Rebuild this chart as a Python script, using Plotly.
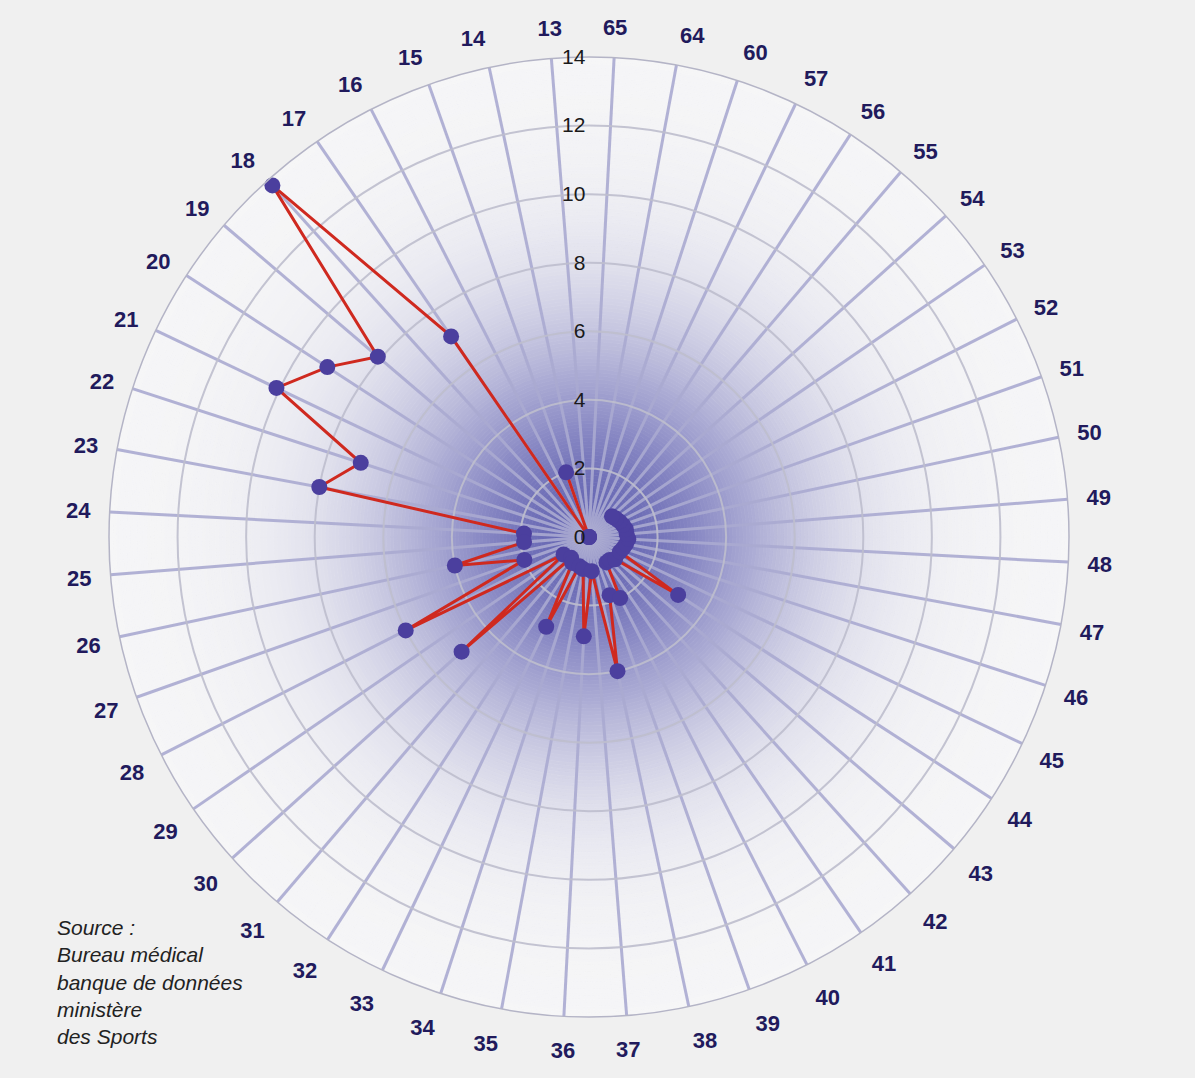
import numpy as np
import plotly.graph_objects as go

# ---------------- data ----------------
categories = ["13", "14", "15", "16", "17", "18", "19", "20", "21", "22",
              "23", "24", "25", "26", "27", "28", "29", "30", "31", "32",
              "33", "34", "35", "36", "37", "38", "39", "40", "41", "42",
              "43", "44", "45", "46", "47", "48", "49", "50", "51", "52",
              "53", "54", "55", "56", "57", "60", "64", "65"]

values = [0, 0, 2.0, 0, 7.1, 13.8, 8.1, 9.1, 10.1, 7.0,
          8.0, 1.9, 1.9, 4.0, 2.0, 6.0, 0.9, 5.0, 0.8, 0.9,
          2.9, 0.9, 0.95, 2.9, 1.0, 4.0, 1.8, 2.0, 0.9, 0.9,
          1.0, 3.1, 1.0, 1.05, 1.1, 1.15, 1.1, 1.1, 1.05, 1.0,
          0.95, 0.9, None, None, None, None, None, None]

radial_ticks = [0, 2, 4, 6, 8, 10, 12, 14]
radial_ticktext = ["0", "2", "4", "6", "8", "10", "12", "14"]

source_lines = ["Source :", "Bureau médical", "banque de données",
                "ministère", "des Sports"]

# ---------------- layout geometry ----------------
W, H = 1195, 1078
cx, cy, R = 589, 537, 480
dom_x = [(cx - R) / W, (cx + R) / W]
dom_y = [1 - (cy + R) / H, 1 - (cy - R) / H]

# ---------------- background glow (decoration) ----------------
n_rings = 140
edges = np.linspace(0, 14, n_rings + 1)
mids = (edges[:-1] + edges[1:]) / 2
bg = np.array([246, 246, 247])
dark = np.array([100, 100, 178])
ring_cols = []
for m in mids:
    t = np.exp(-(m / 5.8) ** 2)
    c = bg + t * (dark - bg)
    ring_cols.append("rgb(%d,%d,%d)" % tuple(np.round(c).astype(int)))

fig = go.Figure()
fig.add_trace(go.Barpolar(
    r=np.repeat(np.diff(edges), 2),
    base=np.repeat(edges[:-1], 2),
    theta=[90, 270] * n_rings,
    width=[180] * (2 * n_rings),
    marker=dict(color=np.repeat(ring_cols, 2).tolist(),
                line=dict(width=0.8, color=np.repeat(ring_cols, 2).tolist())),
    subplot="polar", hoverinfo="skip", showlegend=False,
))

# ---------------- data trace ----------------
fig.add_trace(go.Scatterpolar(
    r=values, theta=categories,
    mode="lines+markers",
    line=dict(color="#cf291f", width=3),
    marker=dict(size=16, color="#4b3f9e"),
    connectgaps=False,
    subplot="polar2", showlegend=False,
))

fig.update_layout(
    width=W, height=H,
    margin=dict(l=0, r=0, t=0, b=0),
    paper_bgcolor="#f0f0f0",
    polar=dict(
        domain=dict(x=dom_x, y=dom_y),
        bgcolor="#f6f6f7",
        radialaxis=dict(visible=False, range=[0, 14]),
        angularaxis=dict(visible=False),
    ),
    polar2=dict(
        domain=dict(x=dom_x, y=dom_y),
        bgcolor="rgba(0,0,0,0)",
        radialaxis=dict(
            range=[0, 14], tickvals=radial_ticks, ticktext=radial_ticktext,
            angle=90, side="counterclockwise", tickangle=90,
            showline=False, ticks="",
            gridcolor="rgba(190,190,205,0.9)", gridwidth=1.5,
            tickfont=dict(size=21, color="#1a1a1a", family="Liberation Sans"),
        ),
        angularaxis=dict(
            type="category", categoryarray=categories,
            rotation=94.5, direction="counterclockwise",
            gridcolor="rgba(170,170,208,0.9)", gridwidth=2.5,
            showline=True, linecolor="#b4b4c6", linewidth=1.5,
            ticks="outside", ticklen=14, tickcolor="rgba(0,0,0,0)",
            tickfont=dict(size=22, color="#211a5c", family="Liberation Sans",
                          weight="bold"),
        ),
    ),
    annotations=[dict(
        text="<br>".join(source_lines),
        xref="paper", yref="paper", x=55 / W, y=1 - 914 / H,
        xanchor="left", yanchor="top", align="left", showarrow=False,
        font=dict(size=21, color="#222222", family="Liberation Sans",
                  style="italic"),
    )],
)

fig.write_html("out.html",
               config={"displayModeBar": False},
               post_script="document.body.style.margin='0';"
                           "document.body.style.overflow='hidden';")
